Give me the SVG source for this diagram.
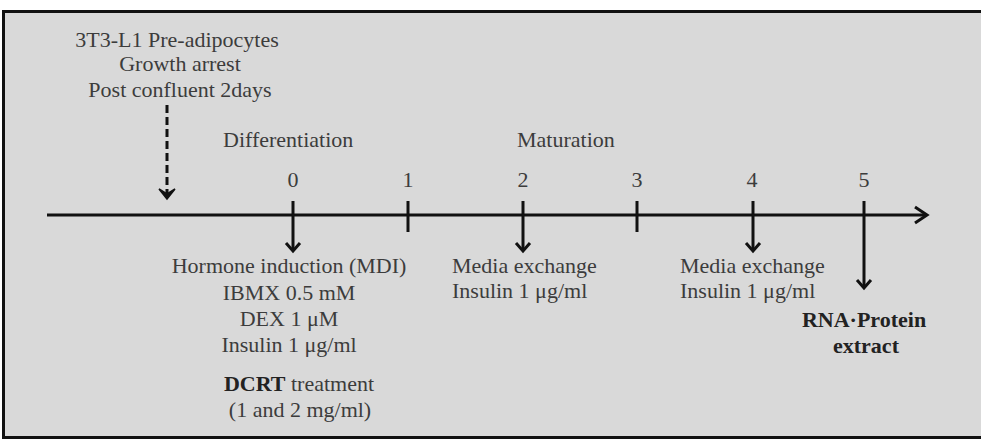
<svg xmlns="http://www.w3.org/2000/svg" width="981" height="439" viewBox="0 0 981 439">
  <style>
    .t { font-family: "Liberation Serif", "Times New Roman", serif; font-size: 22px; fill: #3c3c3c; }
    .c { text-anchor: middle; }
    .b { font-weight: bold; fill: #222; }
    .ln { stroke: #111; stroke-width: 3; fill: none; }
    .hd { stroke: #111; stroke-width: 3; fill: none; stroke-linejoin: miter; }
  </style>
  <rect x="0" y="0" width="981" height="439" fill="#ffffff"/>
  <rect id="frame" x="3.5" y="11.5" width="979" height="426" fill="#d9d9d9" stroke="#111" stroke-width="3"/>

  <!-- timeline axis, day ticks and event arrows -->
  <g id="connectors">
    <line class="ln" x1="47" y1="215" x2="926" y2="215"/>
    <polyline class="hd" points="915,207 927,215 915,223"/>
    <!-- day ticks -->
    <line class="ln" x1="408" y1="201" x2="408" y2="232"/>
    <line class="ln" x1="637" y1="201" x2="637" y2="232"/>
    <!-- day 0 arrow -->
    <line class="ln" x1="293" y1="201" x2="293" y2="251"/>
    <polyline class="hd" points="286,243 293,251 300,243"/>
    <!-- day 2 arrow -->
    <line class="ln" x1="523" y1="201" x2="523" y2="251"/>
    <polyline class="hd" points="516,243 523,251 530,243"/>
    <!-- day 4 arrow -->
    <line class="ln" x1="753" y1="201" x2="753" y2="251"/>
    <polyline class="hd" points="746,243 753,251 760,243"/>
    <!-- day 5 arrow -->
    <line class="ln" x1="864" y1="201" x2="864" y2="288"/>
    <polyline class="hd" points="857,280 864,288 871,280"/>
    <!-- growth arrest dashed arrow -->
    <line class="ln" x1="167" y1="105" x2="167" y2="196" stroke-width="3.5" stroke-dasharray="8,4"/>
    <polygon points="159,189 167,199 175,189 167,194" fill="#111" stroke="#111" stroke-width="1.5" stroke-linejoin="miter"/>
  </g>

  <g id="preadipocytes">
    <text class="t c" x="177" y="47">3T3-L1 Pre-adipocytes</text>
    <text class="t c" x="180" y="71">Growth arrest</text>
    <text class="t c" x="180" y="97">Post confluent 2days</text>
  </g>

  <g id="phases">
    <text class="t" x="223" y="147">Differentiation</text>
    <text class="t" x="517" y="147">Maturation</text>
  </g>

  <g id="days">
    <text class="t c" x="293" y="187">0</text>
    <text class="t c" x="408" y="187">1</text>
    <text class="t c" x="523" y="187">2</text>
    <text class="t c" x="637" y="187">3</text>
    <text class="t c" x="752" y="187">4</text>
    <text class="t c" x="864" y="187">5</text>
  </g>

  <g id="induction">
    <text class="t c" x="289" y="273">Hormone induction (MDI)</text>
    <text class="t c" x="289" y="300">IBMX 0.5 mM</text>
    <text class="t c" x="289" y="326">DEX 1 μM</text>
    <text class="t c" x="289" y="352">Insulin 1 μg/ml</text>
    <text class="t c" x="299" y="391"><tspan class="b">DCRT</tspan> treatment</text>
    <text class="t c" x="300" y="417">(1 and 2 mg/ml)</text>
  </g>

  <g id="exchange-day2">
    <text class="t" x="452" y="273">Media exchange</text>
    <text class="t" x="452" y="298">Insulin 1 μg/ml</text>
  </g>

  <g id="exchange-day4">
    <text class="t" x="680" y="273">Media exchange</text>
    <text class="t" x="680" y="298">Insulin 1 μg/ml</text>
  </g>

  <g id="extract">
    <text class="t c b" x="864" y="327">RNA·Protein</text>
    <text class="t c b" x="866" y="353">extract</text>
  </g>
</svg>
